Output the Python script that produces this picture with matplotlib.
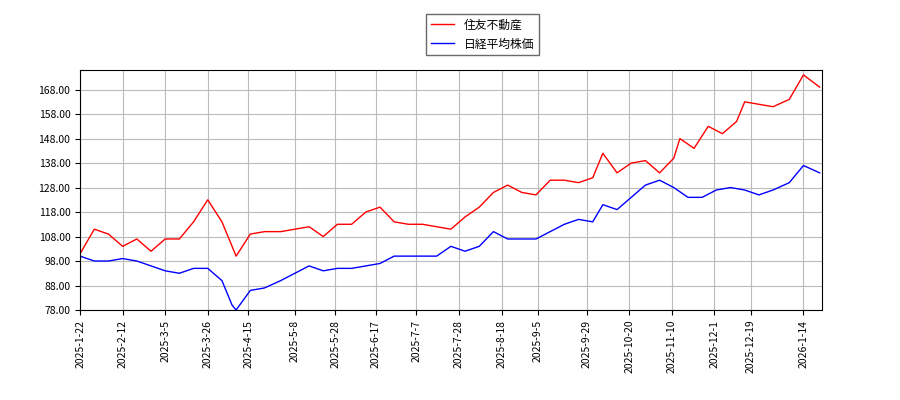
import matplotlib
matplotlib.use("Agg")
import matplotlib.pyplot as plt
import pandas as pd

plt.rcParams['font.family'] = ['Noto Sans CJK JP', 'DejaVu Sans']

red_dates = ["2025-01-22","2025-01-29","2025-02-05","2025-02-12","2025-02-19","2025-02-26","2025-03-05","2025-03-12","2025-03-19","2025-03-26","2025-04-02","2025-04-09","2025-04-16","2025-04-23","2025-05-01","2025-05-08","2025-05-15","2025-05-22","2025-05-29","2025-06-05","2025-06-12","2025-06-19","2025-06-26","2025-07-03","2025-07-10","2025-07-17","2025-07-24","2025-07-31","2025-08-07","2025-08-14","2025-08-21","2025-08-28","2025-09-04","2025-09-11","2025-09-18","2025-09-25","2025-10-02","2025-10-07","2025-10-14","2025-10-21","2025-10-28","2025-11-04","2025-11-11","2025-11-14","2025-11-21","2025-11-28","2025-12-05","2025-12-12","2025-12-16","2025-12-23","2025-12-30","2026-01-07","2026-01-14","2026-01-22"]
red_vals = [101,111,109,104,107,102,107,107,114,123,114,100,109,110,110,111,112,108,113,113,118,120,114,113,113,112,111,116,120,126,129,126,125,131,131,130,132,142,134,138,139,134,140,148,144,153,150,155,163,162,161,164,174,169]

blue_dates = ["2025-01-22","2025-01-29","2025-02-05","2025-02-12","2025-02-19","2025-02-26","2025-03-05","2025-03-12","2025-03-19","2025-03-26","2025-04-02","2025-04-07","2025-04-09","2025-04-16","2025-04-23","2025-05-01","2025-05-08","2025-05-15","2025-05-22","2025-05-29","2025-06-05","2025-06-12","2025-06-19","2025-06-26","2025-07-03","2025-07-10","2025-07-17","2025-07-24","2025-07-31","2025-08-07","2025-08-14","2025-08-21","2025-08-28","2025-09-04","2025-09-11","2025-09-18","2025-09-25","2025-10-02","2025-10-07","2025-10-14","2025-10-21","2025-10-28","2025-11-04","2025-11-11","2025-11-18","2025-11-25","2025-12-02","2025-12-09","2025-12-16","2025-12-23","2025-12-30","2026-01-07","2026-01-14","2026-01-22"]
blue_vals = [100,98,98,99,98,96,94,93,95,95,90,80,78,86,87,90,93,96,94,95,95,96,97,100,100,100,100,104,102,104,110,107,107,107,110,113,115,114,121,119,124,129,131,128,124,124,127,128,127,125,127,130,137,134]

tick_labels = ["2025-1-22","2025-2-12","2025-3-5","2025-3-26","2025-4-15","2025-5-8","2025-5-28","2025-6-17","2025-7-7","2025-7-28","2025-8-18","2025-9-5","2025-9-29","2025-10-20","2025-11-10","2025-12-1","2025-12-19","2026-1-14"]
yticks = [78,88,98,108,118,128,138,148,158,168]

fig = plt.figure(figsize=(9,4), dpi=100)
ax = fig.add_axes([0.089, 0.225, 0.824, 0.6])
ax.plot(pd.to_datetime(red_dates), red_vals, color='red', lw=1, label='住友不動産')
ax.plot(pd.to_datetime(blue_dates), blue_vals, color='blue', lw=1, label='日経平均株価')
ax.set_xticks(pd.to_datetime(tick_labels))
ax.set_xticklabels(tick_labels, rotation=90, fontsize=7.5)
ax.set_yticks(yticks)
ax.set_yticklabels([f"{v:.2f}" for v in yticks], fontsize=7.5)
ax.set_ylim(78, 176)
ax.set_xlim(pd.Timestamp("2025-01-22"), pd.Timestamp("2026-01-23"))
ax.grid(True, color='#bbbbbb', lw=0.8)
fig.legend(loc='upper center', bbox_to_anchor=(0.536, 0.98), fontsize=8.5, fancybox=False, edgecolor='#444444')
fig.savefig("out.png")
